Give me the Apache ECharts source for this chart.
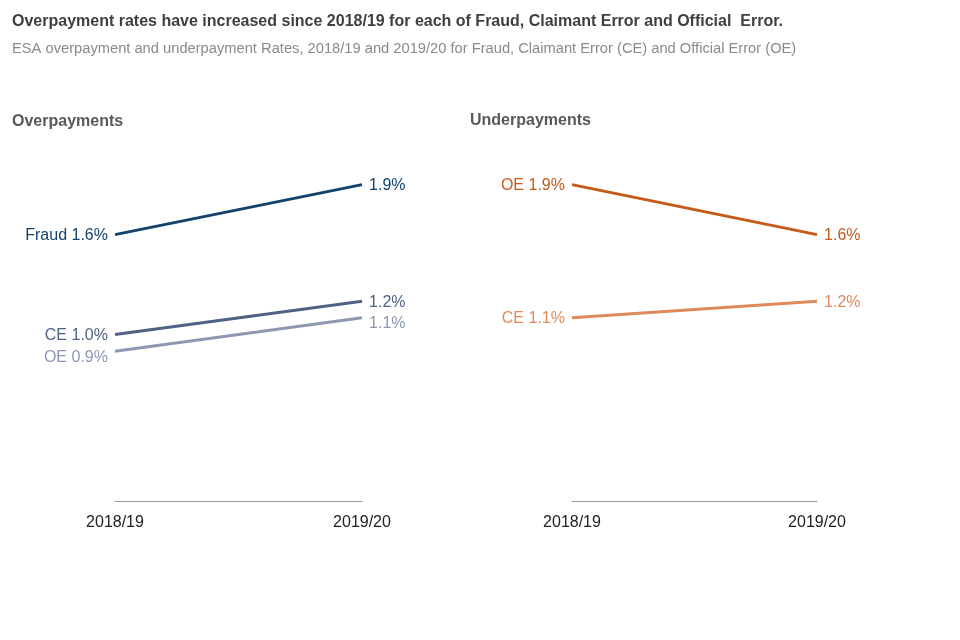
<!DOCTYPE html>
<html>
<head>
<meta charset="utf-8">
<script src="https://cdn.jsdelivr.net/npm/echarts@6/dist/echarts.min.js"></script>
<style>html,body{margin:0;padding:0;background:#fff}#c{width:960px;height:640px}</style>
</head>
<body>
<div id="c"></div>
<script>
const categories = ['2018/19', '2019/20'];
const overFraud = [1.6, 1.9];
const overCE = [1.0, 1.2];
const overOE = [0.9, 1.1];
const underOE = [1.9, 1.6];
const underCE = [1.1, 1.2];

const FONT = '"Liberation Sans", Arial, sans-serif';

function mkSeries(name, data, idx, color, prefix, dy) {
  return {
    type: 'line', name: name, xAxisIndex: idx, yAxisIndex: idx,
    symbol: 'none', showSymbol: true, symbolSize: 0,
    lineStyle: { color: color, width: 3 },
    itemStyle: { color: color },
    silent: true,
    data: data.map((v, i) => ({
      value: v,
      symbol: 'circle', symbolSize: 0.1,
      label: {
        show: true,
        position: i === 0 ? 'left' : 'right',
        distance: 7,
        offset: [0, dy],
        color: color,
        fontSize: 16,
        fontFamily: FONT,
        formatter: (i === 0 ? prefix + ' ' : '') + v.toFixed(1) + '%'
      }
    }))
  };
}

const chart = echarts.init(document.getElementById('c'));
const xAxisBase = {
  type: 'category', data: categories, boundaryGap: false,
  axisLine: { lineStyle: { color: '#9a9a9a', width: 1 } },
  axisTick: { show: false },
  axisLabel: { color: '#222', fontSize: 16, fontFamily: FONT, margin: 14 },
  splitLine: { show: false }
};
const yAxisBase = {
  type: 'value', min: 0, max: 2.0, show: false, splitLine: { show: false }
};
chart.setOption({
  animation: false,
  title: [
    { text: 'Overpayment rates have increased since 2018/19 for each of Fraud, Claimant Error and Official  Error.',
      left: 12, top: 14, padding: 0, textStyle: { fontFamily: FONT, fontSize: 16, fontWeight: 'bold', color: '#3f3f3f' } },
    { text: 'ESA overpayment and underpayment Rates, 2018/19 and 2019/20 for Fraud, Claimant Error (CE) and Official Error (OE)',
      left: 12, top: 41, padding: 0, textStyle: { fontFamily: FONT, fontSize: 14.7, fontWeight: 'normal', color: '#8a8a8a' } },
    { text: 'Overpayments', left: 12, top: 114, padding: 0,
      textStyle: { fontFamily: FONT, fontSize: 16, fontWeight: 'bold', color: '#595959' } },
    { text: 'Underpayments', left: 470, top: 113, padding: 0,
      textStyle: { fontFamily: FONT, fontSize: 16, fontWeight: 'bold', color: '#595959' } }
  ],
  grid: [
    { left: 115, width: 247, top: 168, height: 333 },
    { left: 572, width: 245, top: 168, height: 333 }
  ],
  xAxis: [Object.assign({ gridIndex: 0 }, xAxisBase), Object.assign({ gridIndex: 1 }, xAxisBase)],
  yAxis: [Object.assign({ gridIndex: 0 }, yAxisBase), Object.assign({ gridIndex: 1 }, yAxisBase)],
  series: [
    mkSeries('OE', overOE, 0, '#8e98b2', 'OE', 6),
    mkSeries('CE', overCE, 0, '#4f6286', 'CE', 1),
    mkSeries('Fraud', overFraud, 0, '#12436d', 'Fraud', 1),
    mkSeries('CE', underCE, 1, '#e08a5c', 'CE', 1),
    mkSeries('OE', underOE, 1, '#c55a1b', 'OE', 1)
  ]
});
</script>
</body>
</html>
